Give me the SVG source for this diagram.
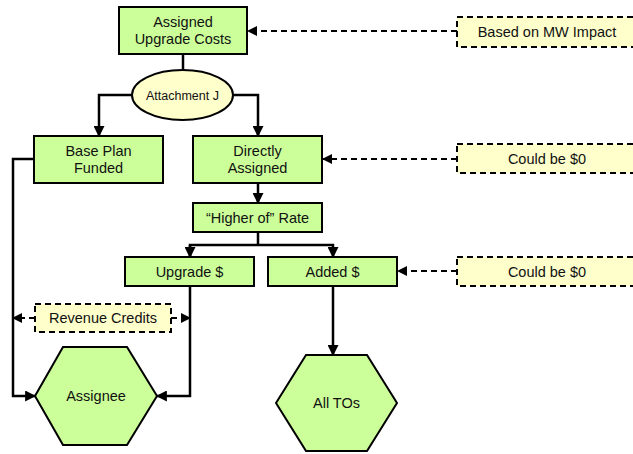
<svg xmlns="http://www.w3.org/2000/svg" width="633" height="454" viewBox="0 0 633 454">
<style>
.box{fill:#CCFF99;stroke:#000;stroke-width:2}
.note{fill:#FFFFCC;stroke:#000;stroke-width:2;stroke-dasharray:6,4}
.t{font-family:"Liberation Sans",Arial,sans-serif;font-size:14.5px;fill:#111;text-anchor:middle}
.s{font-size:12.5px}
.c{fill:none;stroke:#000;stroke-width:2.5}
.d{fill:none;stroke:#000;stroke-width:2;stroke-dasharray:6,4}
</style>
<defs>
<marker id="a" viewBox="0 0 10 10" refX="9" refY="5" markerWidth="4.4" markerHeight="4.4" orient="auto" markerUnits="strokeWidth">
<path d="M0,0 L10,5 L0,10 z" fill="#000"/>
</marker>
<marker id="ad" viewBox="0 0 10 10" refX="9" refY="5" markerWidth="5" markerHeight="5" orient="auto" markerUnits="strokeWidth">
<path d="M0,0 L10,5 L0,10 z" fill="#000"/>
</marker>
</defs>
<rect width="633" height="454" fill="#fff"/>
<g id="connectors">
<path class="c" d="M183,54 V71"/>
<path class="c" d="M132,95 H99 V136" marker-end="url(#a)"/>
<path class="c" d="M233,95 H258 V136" marker-end="url(#a)"/>
<path class="c" d="M258,183 V203" marker-end="url(#a)"/>
<path class="c" d="M258,232 V245"/>
<path class="c" d="M190,257 V245 H333 V257" marker-end="url(#a)"/>
<path class="c" d="M190,245 V257" marker-end="url(#a)"/>
<path class="c" d="M190,286 V396 H157" marker-end="url(#a)"/>
<path class="c" d="M34,159 H13 V396 H35" marker-end="url(#a)"/>
<path class="c" d="M333,286 V355" marker-end="url(#a)"/>
<path class="d" d="M457,31 H248" marker-end="url(#ad)"/>
<path class="d" d="M457,159 H323" marker-end="url(#ad)"/>
<path class="d" d="M457,271 H398" marker-end="url(#ad)"/>
<path class="d" d="M35,318 H13" marker-end="url(#ad)"/>
<path class="d" d="M171,318 H190" marker-end="url(#ad)"/>
</g>
<g id="assigned-upgrade-costs">
<rect class="box" x="119" y="7" width="128" height="47"/>
<text class="t" x="183" y="27">Assigned</text>
<text class="t" x="183" y="44">Upgrade Costs</text>
</g>
<g id="attachment-j">
<ellipse cx="182.5" cy="95" rx="50.5" ry="25" fill="#FFFFCC" stroke="#000" stroke-width="2"/>
<text class="t s" x="182.5" y="99.5">Attachment J</text>
</g>
<g id="base-plan-funded">
<rect class="box" x="34" y="136" width="129" height="47"/>
<text class="t" x="98.5" y="156">Base Plan</text>
<text class="t" x="98.5" y="173">Funded</text>
</g>
<g id="directly-assigned">
<rect class="box" x="193" y="136" width="129" height="47"/>
<text class="t" x="257.5" y="156">Directly</text>
<text class="t" x="257.5" y="173">Assigned</text>
</g>
<g id="higher-of-rate">
<rect class="box" x="193" y="203" width="129" height="29"/>
<text class="t" x="257.5" y="222.5">“Higher of” Rate</text>
</g>
<g id="upgrade">
<rect class="box" x="125" y="257" width="129" height="29"/>
<text class="t" x="189.5" y="276.5">Upgrade $</text>
</g>
<g id="added">
<rect class="box" x="268" y="257" width="129" height="29"/>
<text class="t" x="332.5" y="276.5">Added $</text>
</g>
<g id="revenue-credits">
<rect class="note" x="35" y="304" width="136" height="28"/>
<text class="t" x="103" y="323">Revenue Credits</text>
</g>
<g id="assignee">
<polygon class="box" points="35,396 63,347 127,347 157,396 127,445 63,445"/>
<text class="t" x="96" y="401">Assignee</text>
</g>
<g id="all-tos">
<polygon class="box" points="276,403 306,355 367,355 397,403 367,451 306,451"/>
<text class="t" x="336.5" y="408">All TOs</text>
</g>
<g id="based-on-mw-impact">
<rect class="note" x="457" y="17" width="185" height="30"/>
<text class="t" x="547" y="37">Based on MW Impact</text>
</g>
<g id="could-be-0-a">
<rect class="note" x="457" y="144" width="185" height="29"/>
<text class="t" x="547" y="163.5">Could be $0</text>
</g>
<g id="could-be-0-b">
<rect class="note" x="457" y="257" width="185" height="29"/>
<text class="t" x="547" y="276.5">Could be $0</text>
</g>
</svg>
